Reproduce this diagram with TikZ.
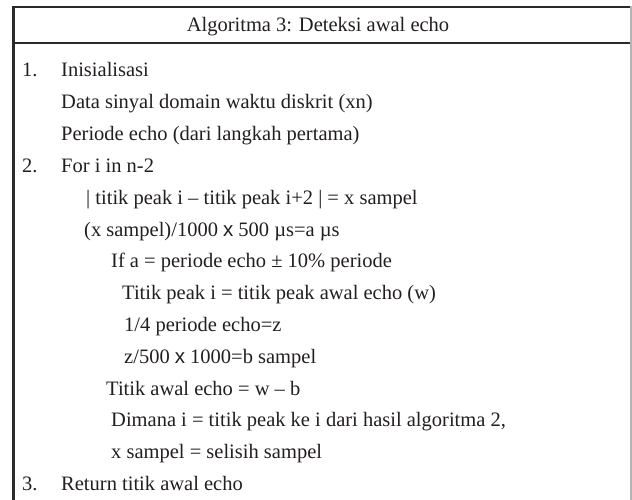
\documentclass[tikz,border=0pt]{standalone}
\usepackage{fontspec}
\setmainfont{Liberation Serif}
\newfontfamily\timesx{Liberation Sans}
\definecolor{ink}{HTML}{231F20}
\definecolor{rule}{HTML}{2A2A2A}
\definecolor{edge}{HTML}{B4B4B4}
\begin{document}
\begin{tikzpicture}[x=1pt,y=-1pt,
  txt/.style={anchor=base west,inner sep=0pt,text=ink,font=\fontsize{20.5}{24}\selectfont},
  hdr/.style={anchor=base,inner sep=0pt,text=ink,font=\fontsize{20.5}{24}\selectfont},
  frame/.style={draw=rule,line width=2pt},
  sidebar/.style={draw=rule,line width=2.6pt},
  rightedge/.style={draw=edge,line width=1.2pt}]
\useasboundingbox (0,0) rectangle (632,500);
% table frame
\coordinate (tl) at (12,7.5);
\coordinate (tr) at (632,7.5);
\coordinate (hl) at (12,43.5);
\coordinate (hr) at (632,43.5);
\coordinate (lt) at (13.3,6.5);
\coordinate (lb) at (13.3,500);
\coordinate (rt) at (631,6.5);
\coordinate (rb) at (631,500);
\draw[frame] (tl) -- (tr);
\draw[frame] (hl) -- (hr);
\draw[sidebar] (lt) -- (lb);
\draw[rightedge] (rt) -- (rb);
% header
\node[hdr] (title) at (318,32) {Algoritma 3: Deteksi awal echo};
% algorithm body
\def\bl#1{\fpeval{77+31.8*#1}}
\node[txt] (n1) at (22,{77+31.8*0}) {1.};
\node[txt] (l0) at (61,{77+31.8*0}) {Inisialisasi};
\node[txt] (l1) at (61,{77+31.8*1}) {Data sinyal domain waktu diskrit (xn)};
\node[txt] (l2) at (61,{77+31.8*2}) {Periode echo (dari langkah pertama)};
\node[txt] (n2) at (22,{77+31.8*3}) {2.};
\node[txt] (l3) at (61,{77+31.8*3}) {For i in n-2};
\node[txt] (l4) at (86,{77+31.8*4}) {| titik peak i – titik peak i+2 | = x sampel};
\node[txt] (l5) at (84,{77+31.8*5}) {(x sampel)/1000 {\timesx x} 500 µs=a µs};
\node[txt] (l6) at (111,{77+31.8*6}) {If a = periode echo ± 10\% periode};
\node[txt] (l7) at (122,{77+31.8*7}) {Titik peak i = titik peak awal echo (w)};
\node[txt] (l8) at (124,{77+31.8*8}) {1/4 periode echo=z};
\node[txt] (l9) at (124,{77+31.8*9}) {z/500 {\timesx x} 1000=b sampel};
\node[txt] (l10) at (106,{77+31.8*10}) {Titik awal echo = w – b};
\node[txt] (l11) at (111,{77+31.8*11}) {Dimana i = titik peak ke i dari hasil algoritma 2,};
\node[txt] (l12) at (111,{77+31.8*12}) {x sampel = selisih sampel};
\node[txt] (n3) at (22,{77+31.8*13}) {3.};
\node[txt] (l13) at (61,{77+31.8*13}) {Return titik awal echo};
\end{tikzpicture}
\end{document}
